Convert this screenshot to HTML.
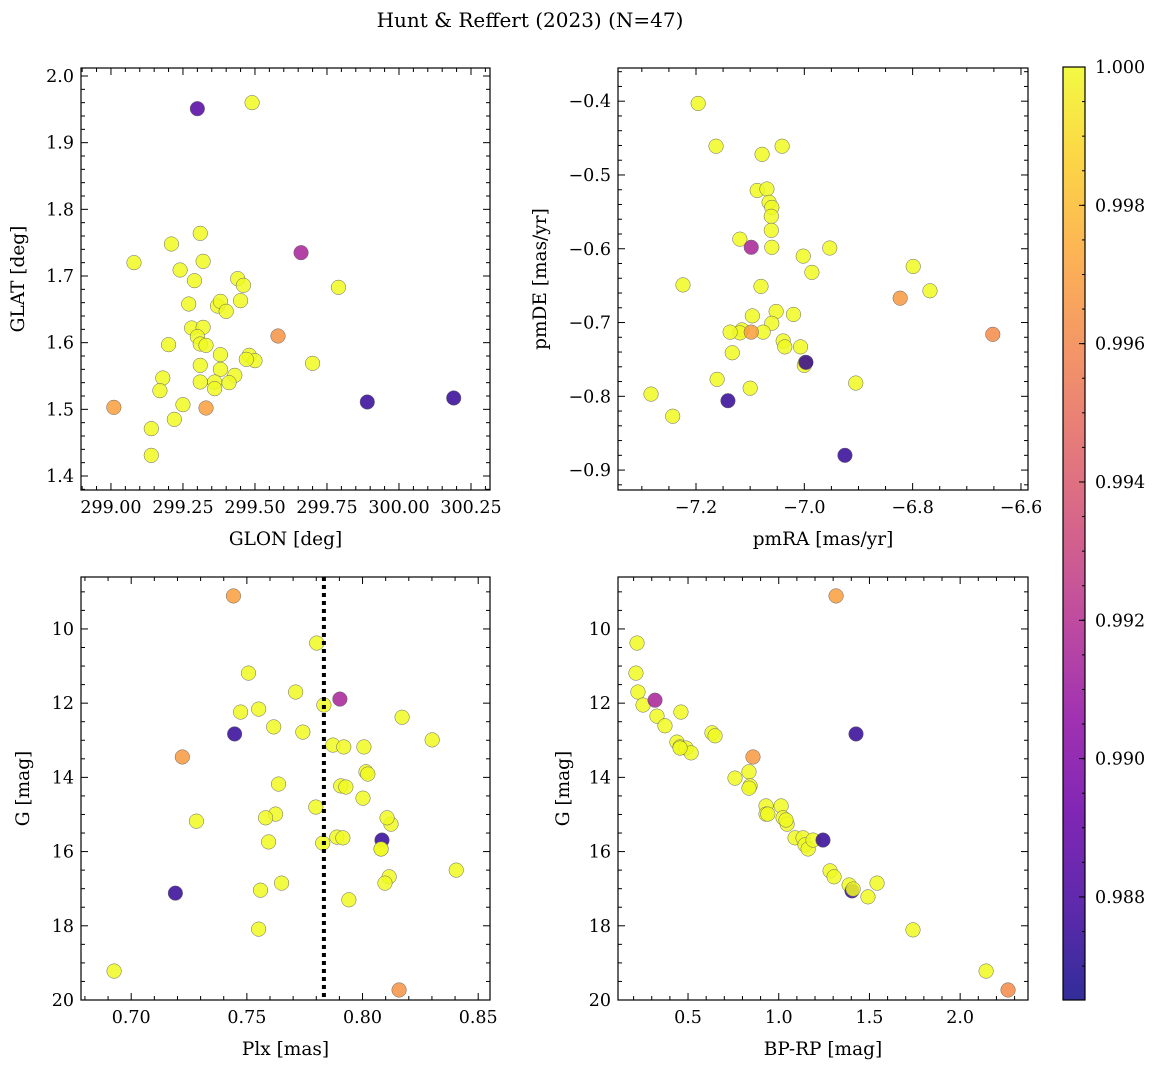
<!DOCTYPE html>
<html><head><meta charset="utf-8"><style>
html,body{margin:0;padding:0;background:#fff;}
svg text{font-family:"DejaVu Serif","Liberation Serif",serif;fill:#000;}
</style></head><body>
<svg id="fig" width="1161" height="1067" viewBox="0 0 1161 1067" xmlns="http://www.w3.org/2000/svg">
<text x="530" y="27" font-size="20" text-anchor="middle">Hunt &amp; Reffert (2023) (N=47)</text>
</svg>
<script>
// ---- data ----
const glon=[299.49,299.30,299.08,299.21,299.31,299.24,299.32,299.44,299.46,299.29,299.45,299.27,299.37,299.38,299.66,299.79,299.40,299.28,299.32,299.30,299.31,299.33,299.20,299.38,299.48,299.50,299.58,299.31,299.38,299.70,299.18,299.43,299.41,299.36,299.17,299.25,299.31,299.36,299.22,299.01,299.33,299.89,300.19,299.14,299.14,299.47];
const glat=[1.960,1.951,1.720,1.748,1.764,1.709,1.722,1.696,1.686,1.693,1.663,1.658,1.655,1.662,1.735,1.683,1.647,1.622,1.623,1.609,1.598,1.596,1.597,1.582,1.581,1.573,1.610,1.566,1.560,1.569,1.547,1.551,1.540,1.541,1.528,1.507,1.541,1.531,1.485,1.503,1.502,1.511,1.517,1.471,1.431,1.575];
const probTL=[1,0.9885,1,1,1,1,1,1,1,1,1,1,1,1,0.9915,1,1,1,1,1,1,1,1,1,1,1,0.9965,1,1,1,1,1,1,1,1,1,1,1,1,0.997,0.997,0.9875,0.9875,1,1,1];

const pmra=[-7.196,-7.163,-7.078,-7.041,-7.087,-7.069,-7.065,-7.060,-7.061,-7.061,-7.119,-7.060,-7.224,-7.002,-6.953,-6.986,-7.080,-6.799,-6.823,-6.768,-6.652,-7.098,-7.052,-7.060,-7.020,-7.096,-7.115,-7.119,-7.137,-7.076,-7.098,-7.039,-7.036,-7.007,-6.998,-7.000,-7.133,-7.161,-7.100,-7.283,-7.243,-7.141,-6.997,-6.905,-6.925];
const pmde=[-0.403,-0.461,-0.472,-0.461,-0.521,-0.519,-0.537,-0.544,-0.556,-0.575,-0.587,-0.598,-0.649,-0.610,-0.599,-0.632,-0.651,-0.624,-0.667,-0.657,-0.716,-0.598,-0.685,-0.701,-0.689,-0.691,-0.710,-0.714,-0.713,-0.713,-0.713,-0.725,-0.733,-0.733,-0.754,-0.758,-0.741,-0.777,-0.789,-0.797,-0.827,-0.806,-0.754,-0.782,-0.880];
const probTR=[1,1,1,1,1,1,1,1,1,1,1,1,1,1,1,1,1,1,0.9968,1,0.9962,0.9915,1,1,1,1,1,1,1,1,0.997,1,1,1,1,1,1,1,1,1,1,0.9875,0.9875,1,0.9875];

const plx=[0.6926,0.7191,0.7442,0.7221,0.7282,0.7447,0.7473,0.7507,0.7551,0.7616,0.7711,0.7742,0.7802,0.7833,0.7902,0.7872,0.7919,0.8006,0.7637,0.7624,0.7594,0.7581,0.7650,0.7559,0.7551,0.7798,0.7828,0.7889,0.7915,0.7941,0.8084,0.8080,0.8115,0.8097,0.8123,0.8106,0.8015,0.8002,0.8023,0.8171,0.8301,0.8405,0.8158,0.7906,0.7928,0.8080];
const gmagL=[19.22,17.12,9.11,13.45,15.18,12.83,12.24,11.19,12.16,12.64,11.70,12.78,10.38,12.05,11.89,13.13,13.18,13.18,14.18,14.99,15.74,15.09,16.85,17.04,18.09,14.80,15.77,15.61,15.63,17.30,15.69,15.93,16.68,16.85,15.26,15.09,13.85,14.56,13.91,12.38,12.99,16.50,19.73,14.23,14.26,15.93];
const probBL=[1,0.9875,0.997,0.9968,1,0.9875,1,1,1,1,1,1,1,1,0.9915,1,1,1,1,1,1,1,1,1,1,1,1,1,1,1,0.9875,1,1,1,1,1,1,1,1,1,1,1,0.9965,1,1,1];

const bprp=[0.219,0.213,0.224,0.252,0.318,0.329,0.373,0.461,0.439,0.456,0.489,0.517,0.456,0.632,0.649,0.858,0.836,0.842,0.836,0.759,0.930,0.930,1.013,1.024,1.046,1.090,1.134,1.145,1.162,1.189,1.244,1.283,1.305,1.388,1.404,1.410,1.492,1.542,1.740,2.143,2.264,1.316,1.426,0.940,1.040];
const gmagR=[10.38,11.19,11.70,12.05,11.92,12.35,12.61,12.24,13.05,13.18,13.21,13.34,13.21,12.80,12.88,13.45,13.85,14.23,14.29,14.02,14.77,14.99,14.77,15.09,15.26,15.63,15.63,15.82,15.93,15.69,15.69,16.52,16.68,16.90,17.06,17.01,17.22,16.85,18.11,19.22,19.73,9.11,12.83,14.99,15.15];
const probBR=[1,1,1,1,0.9915,1,1,1,1,1,1,1,1,1,1,0.9968,1,1,1,1,1,1,1,1,1,1,1,1,1,1,0.9875,1,1,1,0.9875,1,1,1,1,1,0.9962,0.997,0.9875,1,1];

const cbTicks=[0.988,0.990,0.992,0.994,0.996,0.998,1.000];
const cmin=0.98651,cmax=1.0;

// plasma colormap anchors
const plasma=[[13,8,135],[65,4,157],[106,0,168],[143,13,164],[177,42,144],[204,71,120],[225,100,98],[242,132,75],[252,166,54],[252,206,37],[240,249,33]];
function cmap(t){t=Math.max(0,Math.min(1,t));const f=t*(plasma.length-1);const i=Math.min(plasma.length-2,Math.floor(f));const u=f-i;const a=plasma[i],b=plasma[i+1];return `rgb(${a.map((v,k)=>Math.round(v+(b[k]-v)*u)).join(',')})`;}
function colorOf(p){return cmap((p-cmin)/(cmax-cmin));}

const svg=document.getElementById('fig');
const NS='http://www.w3.org/2000/svg';
function mk(tag,attrs,parent){const e=document.createElementNS(NS,tag);for(const k in attrs)e.setAttribute(k,attrs[k]);(parent||svg).appendChild(e);return e;}
function fmt(v,d){const s=Math.abs(v).toFixed(d);return (v<-1e-9?'\u2212':'')+s;}

function panel(o){
  const g=mk('g',{});
  
  
  const sx=v=>o.x0+(v-o.xmin)/(o.xmax-o.xmin)*(o.x1-o.x0);
  const sy=o.yinv?(v=>o.y0+(v-o.ymin)/(o.ymax-o.ymin)*(o.y1-o.y0)):(v=>o.y1-(v-o.ymin)/(o.ymax-o.ymin)*(o.y1-o.y0));
  for(let i=0;i<o.xs.length;i++){
    const c=mk('circle',{cx:sx(o.xs[i]),cy:sy(o.ys[i]),r:7.3,fill:colorOf(o.cs[i]),'fill-opacity':0.85,stroke:'#666','stroke-width':0.5},g);
    
    
  }
  if(o.vline!==undefined){const l=mk('line',{x1:sx(o.vline),x2:sx(o.vline),y1:o.y0,y2:o.y1,stroke:'#000','stroke-width':4,'stroke-dasharray':'4,4'},g);
    }
  const fr=mk('rect',{x:o.x0,y:o.y0,width:o.x1-o.x0,height:o.y1-o.y0,fill:'none',stroke:'#000','stroke-width':1.2},g);
  
  const lo=Math.min(o.xmin,o.xmax),hi=Math.max(o.xmin,o.xmax);
  for(let k=Math.ceil(lo/o.xminor-1e-6);k*o.xminor<=hi+1e-9;k++){
    const v=k*o.xminor;const X=sx(v);
    const major=Math.abs(v/o.xmajor-Math.round(v/o.xmajor))<1e-4;
    const L=major?7:4;
    mk('line',{x1:X,x2:X,y1:o.y1,y2:o.y1-L,stroke:'#000','stroke-width':1},g);
    mk('line',{x1:X,x2:X,y1:o.y0,y2:o.y0+L,stroke:'#000','stroke-width':1},g);
    if(major){const t=mk('text',{x:X,y:o.y1+23,'font-size':17.5,'text-anchor':'middle'},g);t.textContent=fmt(v,o.xd);
      }
  }
  for(let k=Math.ceil(o.ymin/o.yminor-1e-6);k*o.yminor<=o.ymax+1e-9;k++){
    const v=k*o.yminor;const Y=sy(v);
    const major=Math.abs(v/o.ymajor-Math.round(v/o.ymajor))<1e-4;
    const L=major?7:4;
    mk('line',{x1:o.x0,x2:o.x0+L,y1:Y,y2:Y,stroke:'#000','stroke-width':1},g);
    mk('line',{x1:o.x1,x2:o.x1-L,y1:Y,y2:Y,stroke:'#000','stroke-width':1},g);
    if(major){const t=mk('text',{x:o.x0-7,y:Y+6,'font-size':17.5,'text-anchor':'end'},g);t.textContent=fmt(v,o.yd);
      }
  }
  const xl=mk('text',{x:(o.x0+o.x1)/2,y:o.y1+55,'font-size':18.5,'text-anchor':'middle'},g);xl.textContent=o.xlabel;
  
  const yx=o.ylx,yy=(o.y0+o.y1)/2;
  const yl=mk('text',{x:yx,y:yy,'font-size':18.5,'text-anchor':'middle',transform:`rotate(-90 ${yx} ${yy})`},g);yl.textContent=o.ylabel;
  
}

panel({name:'glon-glat-panel',x0:81,x1:490,y0:68,y1:490,xmin:298.896,xmax:300.316,ymin:1.379,ymax:2.012,xmajor:0.25,xminor:0.05,ymajor:0.1,yminor:0.02,xd:2,yd:1,xs:glon,ys:glat,cs:probTL,xlabel:'GLON [deg]',ylabel:'GLAT [deg]',ylx:24});
panel({name:'proper-motion-panel',x0:618,x1:1028,y0:68,y1:490,xmin:-7.344,xmax:-6.587,ymin:-0.927,ymax:-0.355,xmajor:0.2,xminor:0.05,ymajor:0.1,yminor:0.02,xd:1,yd:1,xs:pmra,ys:pmde,cs:probTR,xlabel:'pmRA [mas/yr]',ylabel:'pmDE [mas/yr]',ylx:546});
panel({name:'parallax-panel',x0:81,x1:490,y0:577,y1:1000,xmin:0.6783,xmax:0.8551,ymin:8.60,ymax:20.0,yinv:true,xmajor:0.05,xminor:0.01,ymajor:2,yminor:0.5,xd:2,yd:0,xs:plx,ys:gmagL,cs:probBL,xlabel:'Plx [mas]',ylabel:'G [mag]',ylx:29,vline:0.7833});
panel({name:'cmd-panel',x0:618,x1:1028,y0:577,y1:1000,xmin:0.114,xmax:2.374,ymin:8.60,ymax:20.0,yinv:true,xmajor:0.5,xminor:0.1,ymajor:2,yminor:0.5,xd:1,yd:0,xs:bprp,ys:gmagR,cs:probBR,xlabel:'BP-RP [mag]',ylabel:'G [mag]',ylx:569});

const cb=mk('g',{});


const defs=mk('defs',{},cb);
const lg=mk('linearGradient',{id:'cbg',x1:0,y1:1,x2:0,y2:0},defs);
for(let i=0;i<=20;i++){mk('stop',{offset:i/20,'stop-color':cmap(i/20),'stop-opacity':0.85},lg);}
const cbx0=1063,cbx1=1085,cby0=67,cby1=1000;
mk('rect',{x:cbx0,y:cby0,width:cbx1-cbx0,height:cby1-cby0,fill:'url(#cbg)',stroke:'#000','stroke-width':1.2},cb);
const cy=v=>cby1-(v-cmin)/(cmax-cmin)*(cby1-cby0);
for(let v=0.9870;v<=1.00001;v+=0.0005){const Y=cy(v);mk('line',{x1:cbx1,x2:cbx1-3,y1:Y,y2:Y,stroke:'#000','stroke-width':1},cb);}
cbTicks.forEach(v=>{const Y=cy(v);mk('line',{x1:cbx1,x2:cbx1-6,y1:Y,y2:Y,stroke:'#000','stroke-width':1},cb);
  const t=mk('text',{x:cbx1+10,y:Y+6,'font-size':17.5},cb);t.textContent=v.toFixed(3);
  });
</script>
</body></html>
